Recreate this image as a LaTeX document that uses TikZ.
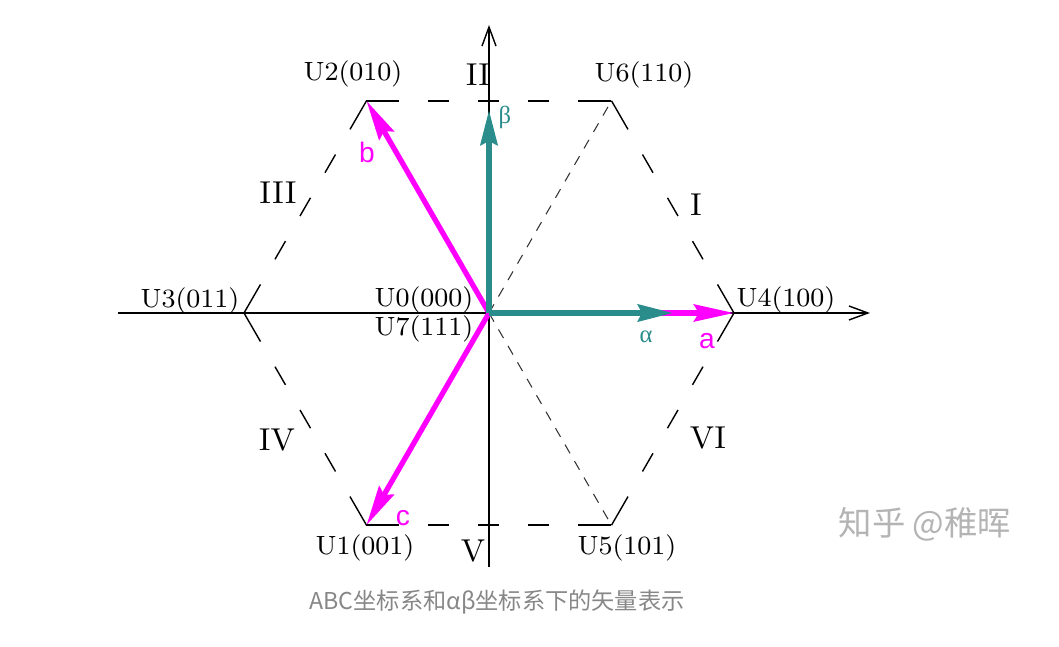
\documentclass[tikz,border=0pt]{standalone}
\usepackage{fontspec}
\newfontfamily\cjkfont{Noto Sans CJK SC}
\newfontfamily\lblfont{Liberation Sans}
\newfontfamily\grkfont{Liberation Serif}
\usetikzlibrary{arrows.meta}
\definecolor{vecm}{RGB}{255,0,255}
\definecolor{vect}{RGB}{43,140,140}
\definecolor{capgray}{RGB}{135,135,135}
\definecolor{markgray}{RGB}{180,180,180}
\tikzset{
    axis/.style = {line width=0.4pt,-{Straight Barb[length=1.9mm,width=1.4mm]}},
    hexedge/.style = {line width=0.4pt,dash pattern=on 3.3mm off 2.9mm on 2.1mm off 2.9mm on 2.1mm off 2.9mm on 2.1mm off 2.9mm on 3.3mm off 5mm},
    sectd/.style = {line width=0.3pt,black!80,dash pattern=on 1mm off 0.9mm},
    edgem/.style = {-{Stealth[length=4mm,width=1.7mm,inset=0.5mm]},line width=1.5pt,vecm},
    edget/.style = {-{Stealth[length=3.5mm,width=1.7mm,inset=0.4mm]},line width=1.6pt,vect},
    ulabel/.style = {inner sep=0pt,font=\fontsize{7.5}{9}\selectfont},
    sector/.style = {inner sep=0pt,font=\fontsize{9}{10}\selectfont},
    mlabel/.style = {inner sep=0pt,text=vecm,font=\lblfont\fontsize{8}{9}\selectfont},
    tlabel/.style = {inner sep=0pt,text=vect,font=\grkfont\fontsize{7}{8}\selectfont},
}

\begin{document}
\begin{tikzpicture}
\useasboundingbox (-4.89,-3.34) rectangle (5.70,3.13);
% vertices of the hexagon
\coordinate (o) at (0,0);
\coordinate (u4) at (0:2.45);
\coordinate (u6) at (60:2.45);
\coordinate (u2) at (120:2.45);
\coordinate (u3) at (180:2.45);
\coordinate (u1) at (240:2.45);
\coordinate (u5) at (300:2.45);
\coordinate (xl) at (-3.71,0);
\coordinate (xr) at (3.81,0);
\coordinate (yb) at (0,-2.54);
\coordinate (yt) at (0,2.88);
\coordinate (atip) at (1.84,0);
\coordinate (btip) at (0,2.03);
%
\draw[axis] (xl) -- (xr);
\draw[axis] (yb) -- (yt);
%
\draw[hexedge] (u4) -- (u6);
\draw[hexedge] (u6) -- (u2);
\draw[hexedge] (u2) -- (u3);
\draw[hexedge] (u3) -- (u1);
\draw[hexedge] (u1) -- (u5);
\draw[hexedge] (u5) -- (u4);
\draw[sectd] (o) -- (u6);
\draw[sectd] (o) -- (u5);
%
\draw[edgem] (o) -- (u4);
\draw[edgem] (o) -- (u2);
\draw[edgem] (o) -- (u1);
\draw[edget] (o) -- (atip);
\draw[edget] (o) -- (btip);
%
\node[ulabel] at (-1.36,2.39) (l2) {U2(010)};
\node[ulabel] at (1.55,2.38) (l6) {U6(110)};
\node[ulabel] at (-2.99,0.12) (l3) {U3(011)};
\node[ulabel] at (-0.65,0.13) (l0) {U0(000)};
\node[ulabel] at (-0.65,-0.16) (l7) {U7(111)};
\node[ulabel] at (2.97,0.13) (l4) {U4(100)};
\node[ulabel] at (-1.24,-2.35) (l1) {U1(001)};
\node[ulabel] at (1.38,-2.35) (l5) {U5(101)};
%
\node[sector] at (2.07,1.08) (s1) {I};
\node[sector] at (-0.11,2.38) (s2) {II};
\node[sector] at (-2.11,1.20) (s3) {III};
\node[sector] at (-2.12,-1.27) (s4) {IV};
\node[sector] at (-0.16,-2.38) (s5) {V};
\node[sector] at (2.19,-1.25) (s6) {VI};
%
\node[mlabel] at (2.18,-0.28) (la) {a};
\node[mlabel] at (-1.22,1.61) (lb) {b};
\node[mlabel] at (-0.86,-2.05) (lc) {c};
\node[tlabel] at (1.57,-0.24) (lalpha) {α};
\node[tlabel] at (0.16,1.96) (lbeta) {β};
%
\node[inner sep=0pt,text=markgray,font=\cjkfont\fontsize{9.5}{11}\selectfont] at (4.36,-2.11) (mark) {知乎 @稚晖};
\node[inner sep=0pt,text=capgray,font=\cjkfont\fontsize{6.6}{8}\selectfont] at (0.08,-2.89) (cap) {ABC坐标系和αβ坐标系下的矢量表示};
\end{tikzpicture}
\end{document}
